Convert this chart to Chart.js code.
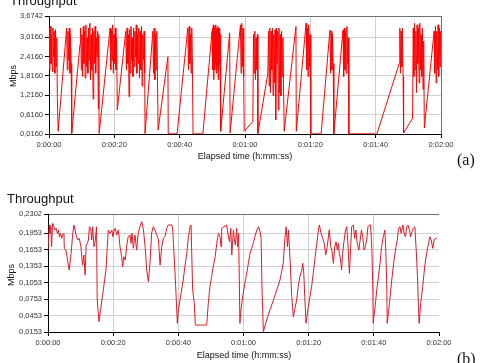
<!DOCTYPE html>
<html><head><meta charset="utf-8">
<script src="https://cdn.jsdelivr.net/npm/chart.js@4.4.1/dist/chart.umd.min.js"></script>
<style>
html,body{margin:0;padding:0;background:#fff;overflow:hidden;width:483px;height:363px;}
#wrap{position:relative;width:483px;height:363px;overflow:hidden;}
canvas{position:absolute;left:0;}
.t{position:absolute;font-family:"Liberation Sans",Arial,sans-serif;color:#111;white-space:nowrap;line-height:1;}
.r{transform:translate(-50%,-50%) rotate(-90deg);}
.c{transform:translateX(-50%);}
.s{font-family:"Liberation Serif","Times New Roman",serif;}
</style></head><body><div id="wrap">
<canvas id="c1" width="483" height="165" style="top:0"></canvas>
<canvas id="c2" width="483" height="198" style="top:165px"></canvas>
<div class="t" style="left:10px;top:-6px;font-size:13px">Throughput</div>
<div class="t r" style="left:13px;top:76px;font-size:9px">Mbps</div>
<div class="t c" style="left:245px;top:152px;font-size:9px">Elapsed time (h:mm:ss)</div>
<div class="t s" style="left:457px;top:152px;font-size:16px">(a)</div>
<div class="t" style="left:7px;top:192px;font-size:13px">Throughput</div>
<div class="t r" style="left:11px;top:275px;font-size:9px">Mbps</div>
<div class="t c" style="left:244px;top:351px;font-size:9px">Elapsed time (h:mm:ss)</div>
<div class="t s" style="left:457px;top:351px;font-size:16px">(b)</div>
</div>
<script>
// ---- tick values and labels ----
const timeTicks = [0, 20, 40, 60, 80, 100, 120];
const timeLabels = ['0:00:00','0:00:20','0:00:40','0:01:00','0:01:20','0:01:40','0:02:00'];
const topYTicks = [0.016, 0.616, 1.216, 1.816, 2.416, 3.016, 3.6742];
const topYLabels = ['0,0160','0,6160','1,2160','1,8160','2,4160','3,0160','3,6742'];
const botYTicks = [0.0153, 0.0453, 0.0753, 0.1053, 0.1353, 0.1653, 0.1953, 0.2302];
const botYLabels = ['0,0153','0,0453','0,0753','0,1053','0,1353','0,1653','0,1953','0,2302'];

// ---- (a) throughput, Mbps: [seconds, value] ----
const topSeg1 = [[0,3.3],[0.2,2.0],[0.4,3.35],[0.6,2.2],[0.8,3.1],[1.0,1.95],[1.2,3.3],[1.4,2.4],[1.6,3.2],[1.8,1.9],[2.0,3.25],[2.2,2.1],[2.4,3.0],[2.55,1.15],[2.8,0.1],
[5.4,3.3],[5.6,2.0],[5.8,3.2],[6.0,2.3],[6.2,3.3],[6.4,1.9],[6.6,3.1],[6.8,2.2],[6.95,0.03],
[9.5,2.8],[9.7,3.3],[9.9,2.0],[10.1,3.1],[10.3,1.8],[10.5,3.35],[10.7,2.2],[10.9,3.2],[11.1,1.75],[11.3,3.4],[11.5,2.1],[11.7,3.0],[11.9,1.9],[12.1,3.3],[12.3,2.3],[12.5,3.45],[12.7,1.7],[12.9,3.1],[13.1,2.0],[13.3,3.3],[13.5,1.1],[13.7,3.2],[13.9,2.2],[14.1,3.35],[14.3,1.9],[14.5,3.0],[14.7,2.4],[14.9,3.2],[15.1,0.8],[15.25,3.1],[15.35,0.03],
[18.7,3.3],[18.9,2.0],[19.1,3.25],[19.3,2.3],[19.5,3.4],[19.7,1.9],[19.9,3.1],[20.1,2.2],[20.3,3.3],[20.5,2.0],[20.7,3.0],[20.9,0.76],
[23.5,3.2],[23.7,2.0],[23.9,3.3],[24.1,2.2],[24.3,3.1],[24.5,1.17],[24.7,3.25],[24.9,1.9],[25.1,3.35],[25.3,2.3],[25.5,3.0],[25.7,1.8],[25.9,3.3],[26.1,2.1],[26.3,3.2],[26.5,2.4],[26.7,3.4],[26.9,1.9],[27.1,3.1],[27.3,2.2],[27.5,3.3],[27.7,1.75],[27.9,3.2],[28.1,2.0],[28.3,3.35],[28.5,1.5],[28.7,3.1],[28.9,2.3],[29.1,3.2],[29.3,1.9],[29.4,0.03]];
const topSeg2 = [[31.8,3.2],[32.0,1.9],[32.2,3.3],[32.4,1.7],[32.6,3.1],[32.8,2.0],[33.0,3.2],[33.2,1.8],[33.4,0.14],
[36.4,2.41],[36.5,0.02],[39.2,0.02],
[42.5,3.3],[42.7,2.0],[42.9,3.35],[43.1,2.2],[43.3,3.1],[43.5,1.9],[43.7,3.3],[43.9,2.1],[44.1,0.02],[47.1,0.02],
[49.9,3.2],[50.0,2.1],[50.1,3.3],[50.2,2.0],[50.3,3.4],[50.4,1.7],[50.5,3.3],[50.6,2.1],[50.7,3.35],[50.8,2.0],[50.9,3.2],[51.0,2.2],[51.1,3.4],[51.2,1.9],[51.3,3.3],[51.4,2.0],[51.5,3.25],[51.6,2.1],[51.7,3.35],[51.8,1.7],[51.9,3.3],[52.0,2.0],[52.1,3.2],[52.2,2.2],[52.3,3.3],[52.4,2.0],[52.5,3.1],[52.6,0.1],
[55.3,3.15],[55.45,0.05],[58.6,3.4],[58.8,1.9],[59.0,3.45],[59.2,2.1],[59.4,3.3],[59.6,1.8],[59.75,0.1]];
const topSeg3 = [[62.4,0.4],[62.6,3.1],[62.8,1.9],[63.0,3.2],[63.2,1.7],[63.4,3.0],[63.6,2.0],[63.8,3.1],[63.95,0.03],
[67.0,1.9],[67.2,3.2],[67.4,1.5],[67.6,3.3],[67.8,1.3],[68.0,3.2],[68.2,2.0],[68.4,3.3],[68.6,1.2],[68.8,3.1],[69.0,1.6],[69.2,3.25],[69.4,0.45],[69.6,3.3],[69.8,2.2],[70.0,3.2],[70.2,0.76],[70.4,3.3],[70.6,1.3],[70.8,3.1],[71.0,1.2],[71.2,3.2],[71.4,1.8],[71.6,3.0],[71.8,1.5],[72.0,0.1],
[75.6,3.35],[75.7,0.1],[78.7,3.45],[78.9,2.0],[79.1,3.3],[79.3,1.8],[79.5,3.4],[79.7,2.1],[79.9,3.1],[80.1,1.9],[80.2,0.02],[83.3,0.02],
[86.0,3.24],[86.2,1.9],[86.4,3.2],[86.6,2.0],[86.8,3.1],[87.0,2.2],[87.2,0.02],
[90.0,3.24]];
const topSeg4 = [[90.2,1.8],[90.4,3.3],[90.6,2.0],[90.8,3.2],[91.0,1.9],[91.2,3.35],[91.4,2.2],[91.6,3.0],[91.8,0.02],[100.4,0.02],
[107.2,2.2],[107.4,3.3],[107.6,1.9],[107.8,3.2],[108.0,2.1],[108.2,3.3],[108.4,1.8],[108.55,0.05],
[111.3,0.5],[111.5,3.3],[111.7,1.8],[111.9,3.45],[112.1,2.0],[112.3,3.2],[112.5,1.3],[112.7,3.4],[112.9,2.2],[113.1,3.3],[113.3,1.6],[113.5,3.45],[113.7,2.0],[113.9,3.1],[114.1,1.8],[114.3,3.3],[114.5,1.4],[114.7,2.9],[114.9,0.2],
[117.9,3.2],[118.1,1.9],[118.3,3.35],[118.5,1.6],[118.7,3.2],[118.9,2.0],[119.1,3.4],[119.3,1.8],[119.5,3.3],[119.7,2.1],[119.9,3.2],[120,2.5]];

// ---- (b) throughput, Mbps: [seconds, value] ----
const botSeg1 = [[0,0.1646],[0.4,0.2102],[0.6,0.195],[0.9,0.207],[1.1,0.1706],[1.4,0.2132],[1.8,0.207],[2.1,0.2011],[2.5,0.2041],[2.9,0.195],[3.2,0.2011],[3.5,0.1888],[3.9,0.195],[4.2,0.1859],[4.5,0.1919],[4.9,0.195],[5.0,0.1677],[5.5,0.1646],[6.0,0.1464],[6.5,0.1282],[7.1,0.1586],[7.6,0.195],[8.0,0.2102],[8.6,0.1919],[9.1,0.1828],[9.6,0.1859],[10.1,0.1706],[10.6,0.137],[11.0,0.1555],[11.4,0.119],[11.7,0.1737],[12.1,0.1768],[12.4,0.1828],[12.7,0.207],[13.1,0.2041],[13.4,0.1828],[13.7,0.207],[14.1,0.1706],[14.4,0.1768],[14.9,0.207],[15.1,0.0736],[15.65,0.0341],[17.8,0.1282],[18.2,0.1706],[18.5,0.2011],[19.0,0.195],[19.6,0.2011],[19.9,0.1888],[20.3,0.2011],[20.6,0.2041],[21.1,0.1919],[21.6,0.2011],[22.1,0.1706],[22.6,0.1524],[22.9,0.1342],[23.3,0.1524],[23.7,0.1464],[24.2,0.1737],[24.6,0.1888],[25.2,0.1919],[25.5,0.1768],[25.8,0.195],[26.2,0.1677],[26.7,0.1919],[27.2,0.1646],[27.7,0.195],[28.2,0.207],[28.8,0.2162],[29.3,0.2011],[29.8,0.1706]];
const botSeg2 = [[30.3,0.1282],[30.8,0.1069],[31.3,0.1404],[31.8,0.195],[32.3,0.207],[32.8,0.2011],[33.4,0.1919],[33.9,0.1828],[34.4,0.137],[34.9,0.1706],[35.4,0.1859],[35.9,0.1888],[36.4,0.2041],[36.9,0.2102],[38.0,0.2102],[38.3,0.2011],[38.5,0.1768],[39.0,0.1222],[39.7,0.0311],[40.0,0.0554],[40.5,0.0736],[41.0,0.0918],[41.5,0.11],[42.0,0.1342],[42.6,0.1586],[43.1,0.1888],[43.6,0.207],[43.9,0.2102],[44.4,0.0918],[44.9,0.0676],[45.2,0.028],[48.7,0.028],[49.2,0.0676],[49.7,0.0978],[50.2,0.116],[50.7,0.1342],[51.3,0.1524],[51.8,0.1768],[52.3,0.195],[52.8,0.1888],[53.1,0.1706],[53.3,0.2041],[54.0,0.207],[54.8,0.2102],[55.3,0.1919],[55.7,0.1797],[56.1,0.2041],[56.4,0.1555],[56.9,0.2011],[57.2,0.1828],[57.5,0.1737],[57.9,0.2041],[58.2,0.1706],[58.5,0.195],[58.9,0.0311],[59.2,0.0554],[59.9,0.0858]];
const botSeg3 = [[60.8,0.116],[61.5,0.1404],[62.0,0.1586],[62.5,0.1677],[63.0,0.1768],[63.5,0.1888],[64.1,0.2011],[64.6,0.207],[65.1,0.198],[65.4,0.1859],[65.7,0.0918],[66.1,0.0158],[67.1,0.0372],[68.1,0.0554],[69.2,0.0736],[70.2,0.0918],[71.2,0.11],[72.2,0.1404],[72.7,0.1859],[73.1,0.207],[73.5,0.1706],[73.8,0.2011],[74.3,0.1464],[74.8,0.0796],[75.3,0.043],[75.8,0.058],[76.3,0.0736],[76.8,0.0978],[77.3,0.116],[77.9,0.1282],[78.2,0.1404],[78.5,0.1222],[78.8,0.0796],[79.2,0.0311],[79.9,0.0614],[80.9,0.0978],[81.4,0.1222],[82.0,0.1524],[82.5,0.1768],[83.0,0.2011],[83.3,0.2102],[83.8,0.195],[84.3,0.1859],[84.8,0.1768],[85.2,0.1555],[85.7,0.1706],[86.3,0.2011],[86.8,0.1706],[87.2,0.1615],[87.6,0.1404],[88.0,0.1706],[88.4,0.1797],[88.8,0.1646],[89.1,0.1768],[89.4,0.1586],[89.8,0.1464]];
const botSeg4 = [[90.1,0.1282],[90.4,0.1586],[90.9,0.1828],[91.3,0.2011],[91.7,0.207],[92.1,0.1706],[92.5,0.1222],[92.9,0.1706],[93.2,0.207],[93.7,0.2102],[94.1,0.1859],[94.5,0.2011],[94.9,0.1768],[95.4,0.1646],[95.8,0.1828],[96.2,0.2011],[96.6,0.1888],[97.0,0.1646],[97.4,0.1706],[97.8,0.1828],[98.2,0.207],[98.6,0.2102],[99.0,0.2102],[99.4,0.1646],[99.7,0.0918],[99.8,0.0311],[100.4,0.0614],[100.9,0.0918],[101.4,0.116],[101.9,0.1404],[102.4,0.1706],[102.9,0.1888],[103.4,0.2011],[103.7,0.1586],[104.0,0.0918],[104.1,0.0311],[104.8,0.0676],[105.5,0.11],[106.2,0.1464],[106.8,0.1706],[107.2,0.1828],[107.6,0.2041],[108.0,0.207],[108.4,0.195],[108.9,0.2102],[109.3,0.195],[109.7,0.1888],[110.1,0.207],[110.5,0.2102],[110.9,0.2011],[111.3,0.1888],[111.7,0.198],[112.1,0.2041],[112.6,0.207],[113.0,0.1646],[113.4,0.116],[113.7,0.0614],[113.9,0.0311],[114.4,0.0676],[115.0,0.0978],[115.6,0.1342],[116.2,0.1586],[116.7,0.1737],[117.2,0.1888],[117.6,0.1828],[118.1,0.1677],[118.5,0.1828],[118.9,0.1859],[119.3,0.1859]];

const toXY = arr => arr.map(p => ({x: p[0], y: p[1]}));
const FONT = '"Liberation Sans", Arial, sans-serif';

function makeChart(id, pts, cfg) {
  const yMin = cfg.yTicks[0], yMax = cfg.yTicks[cfg.yTicks.length - 1];
  return new Chart(document.getElementById(id), {
    type: 'scatter',
    data: { datasets: [{
      data: toXY(pts), showLine: true, pointRadius: 0, pointHoverRadius: 0,
      borderColor: cfg.color, borderWidth: 1, borderJoinStyle: 'bevel', tension: 0
    }]},
    options: {
      responsive: false, animation: false, devicePixelRatio: 1,
      events: [],
      layout: { padding: { top: cfg.padTop, right: cfg.padRight, left: 0, bottom: 0 } },
      plugins: { legend: { display: false }, tooltip: { enabled: false }, title: { display: false } },
      scales: {
        x: {
          type: 'linear', min: 0, max: 120,
          afterFit: s => { s.height = cfg.xHeight; },
          afterBuildTicks: s => { s.ticks = timeTicks.map(v => ({ value: v })); },
          ticks: { autoSkip: false, maxRotation: 0, padding: 2, color: '#333',
                   font: { family: FONT, size: 7.5 }, callback: (v, i) => timeLabels[i] },
          grid: { color: c => (c.tick && c.tick.value === 120) ? cfg.rightColor : '#cfcfcf',
                  tickLength: 4, tickColor: '#000', lineWidth: 1 },
          border: { color: '#000', width: 1 }
        },
        y: {
          type: 'linear', min: yMin, max: yMax,
          afterFit: s => { s.width = cfg.yWidth; },
          afterBuildTicks: s => { s.ticks = cfg.yTicks.map(v => ({ value: v })); },
          ticks: { autoSkip: false, padding: 2, color: '#333',
                   font: { family: FONT, size: 7.5 }, callback: (v, i) => cfg.yLabels[i] },
          grid: { color: c => (c.tick && c.tick.value === yMax) ? '#707070' : '#cfcfcf',
                  tickLength: 4, tickColor: '#000', lineWidth: 1 },
          border: { color: '#000', width: 1 }
        }
      }
    }
  });
}

makeChart('c1', [].concat(topSeg1, topSeg2, topSeg3, topSeg4), {
  yTicks: topYTicks, yLabels: topYLabels, color: '#ff0000',
  padTop: 16, padRight: 42, yWidth: 49, xHeight: 31, rightColor: '#707070'
});
makeChart('c2', [].concat(botSeg1, botSeg2, botSeg3, botSeg4), {
  yTicks: botYTicks, yLabels: botYLabels, color: 'rgb(228,24,36)',
  padTop: 49, padRight: 44, yWidth: 48, xHeight: 31, rightColor: 'rgba(0,0,0,0)'
});
</script>
</body></html>
